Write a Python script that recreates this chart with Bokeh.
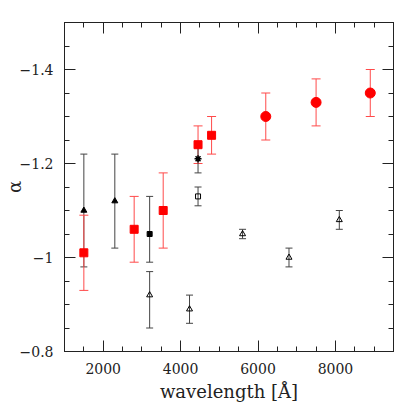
from bokeh.plotting import figure
from bokeh.models import (ColumnDataSource, Range1d, LinearAxis, FixedTicker,
                          Whisker, TeeHead, CustomJSTickFormatter)
from bokeh.embed import file_html
from bokeh.resources import INLINE

# ---- data ----
# black filled triangles
btri_x = [1500, 2300]
btri_y = [-1.10, -1.12]
btri_lo = [-0.98, -1.02]
btri_hi = [-1.22, -1.22]
# black filled square
bsq_x = [3200]
bsq_y = [-1.05]
bsq_lo = [-0.99]
bsq_hi = [-1.13]
# black open triangles
otri_x = [3200, 4230, 5600, 6800, 8100]
otri_y = [-0.92, -0.89, -1.05, -1.00, -1.08]
otri_lo = [-0.85, -0.86, -1.04, -0.98, -1.06]
otri_hi = [-0.97, -0.92, -1.06, -1.02, -1.10]
# black open square
osq_x = [4450]
osq_y = [-1.13]
osq_lo = [-1.11]
osq_hi = [-1.15]
# black star
star_x = [4450]
star_y = [-1.21]
star_lo = [-1.18]
star_hi = [-1.24]
# red squares
rsq_x = [1500, 2800, 3550, 4450, 4800]
rsq_y = [-1.01, -1.06, -1.10, -1.24, -1.26]
rsq_err = [0.08, 0.07, 0.08, 0.04, 0.04]
# red circles
rci_x = [6200, 7500, 8900]
rci_y = [-1.30, -1.33, -1.35]
rci_err = [0.05, 0.05, 0.05]

x_major = [2000, 4000, 6000, 8000]
y_major = [-0.8, -1.0, -1.2, -1.4]

FONT = "DejaVu Serif"
AX = "#222222"
BLK = "#444444"
RED = "#ff0000"
RED_BAR = "#ff4a4a"

p = figure(width=410, height=410, output_backend="svg", toolbar_location=None,
           x_range=Range1d(1000, 9500), y_range=Range1d(-0.8, -1.5),
           x_axis_type=None, y_axis_type=None,
           min_border_left=64, min_border_right=17, min_border_top=22,
           min_border_bottom=59)
p.grid.visible = False
p.outline_line_color = AX
p.background_fill_color = "white"
p.border_fill_color = "white"

xt = FixedTicker(ticks=x_major, minor_ticks=list(range(1000, 9501, 500)))
yt = FixedTicker(ticks=y_major, minor_ticks=[-0.8 - 0.05 * i for i in range(15)])

yfmt = CustomJSTickFormatter(code="""
const a = Math.abs(tick);
const s = Math.abs(a - Math.round(a)) < 1e-9 ? a.toFixed(0) : a.toFixed(1);
return (tick < 0 ? '\u2212' : '') + s;
""")
blank = CustomJSTickFormatter(code="return '';")

def style(ax, labels=True):
    ax.axis_line_color = AX
    ax.major_tick_line_color = AX
    ax.minor_tick_line_color = AX
    ax.major_tick_in = 11
    ax.major_tick_out = 0
    ax.minor_tick_in = 5
    ax.minor_tick_out = 0
    if labels:
        ax.major_label_text_font = FONT
        ax.major_label_text_font_size = "14px"
        ax.major_label_text_color = "#222222"
        ax.major_label_standoff = 11
        ax.axis_label_text_font = FONT
        ax.axis_label_text_font_size = "18px"
        ax.axis_label_text_font_style = "normal"
        ax.axis_label_text_color = "#222222"
    else:
        ax.formatter = blank
        ax.major_label_text_font_size = "1px"
        ax.major_label_standoff = 0

xb = LinearAxis(ticker=xt, axis_label="wavelength [Å]")
style(xb)
xb.axis_label_standoff = 4
p.add_layout(xb, "below")

yl = LinearAxis(ticker=yt, formatter=yfmt, axis_label="α")
style(yl)
yl.axis_label_standoff = -8
p.add_layout(yl, "left")

xa = LinearAxis(ticker=xt)
style(xa, labels=False)
p.add_layout(xa, "above")
yr = LinearAxis(ticker=yt)
style(yr, labels=False)
p.add_layout(yr, "right")

def bars(x, lo, hi, color, cap):
    src = ColumnDataSource(dict(x=x, lo=lo, hi=hi))
    w = Whisker(source=src, base="x", lower="lo", upper="hi", dimension="height",
                line_color=color, line_width=1,
                lower_head=TeeHead(size=cap, line_color=color, line_width=1),
                upper_head=TeeHead(size=cap, line_color=color, line_width=1))
    p.add_layout(w)

# black (first group)
bars(btri_x, btri_lo, btri_hi, BLK, 7)
bars(bsq_x, bsq_lo, bsq_hi, BLK, 7)
bars(otri_x, otri_lo, otri_hi, BLK, 7)
p.scatter(btri_x, btri_y, marker="triangle", size=6, fill_color="black", line_color="black")
p.scatter(bsq_x, bsq_y, marker="square", size=5, fill_color="black", line_color="black")
p.scatter(otri_x, otri_y, marker="triangle", size=6, fill_color=None, line_color="black", line_width=1)

# red
rsq_lo = [y + e for y, e in zip(rsq_y, rsq_err)]
rsq_hi = [y - e for y, e in zip(rsq_y, rsq_err)]
rci_lo = [y + e for y, e in zip(rci_y, rci_err)]
rci_hi = [y - e for y, e in zip(rci_y, rci_err)]
bars(rsq_x, rsq_lo, rsq_hi, RED_BAR, 9)
bars(rci_x, rci_lo, rci_hi, RED_BAR, 9)
p.scatter(rsq_x, rsq_y, marker="square", size=8, fill_color=RED, line_color=RED)
p.scatter(rci_x, rci_y, marker="circle", size=10, fill_color=RED, line_color=RED)

# black (second group)
bars(osq_x, osq_lo, osq_hi, BLK, 7)
bars(star_x, star_lo, star_hi, BLK, 7)
p.scatter(osq_x, osq_y, marker="square", size=5, fill_color=None, line_color="black", line_width=1)
p.scatter(star_x, star_y, marker="asterisk", size=7, line_color="black", line_width=1.5)
p.scatter(star_x, star_y, marker="circle", size=3, fill_color="black", line_color="black")

open("out.html", "w").write(file_html(p, INLINE))
